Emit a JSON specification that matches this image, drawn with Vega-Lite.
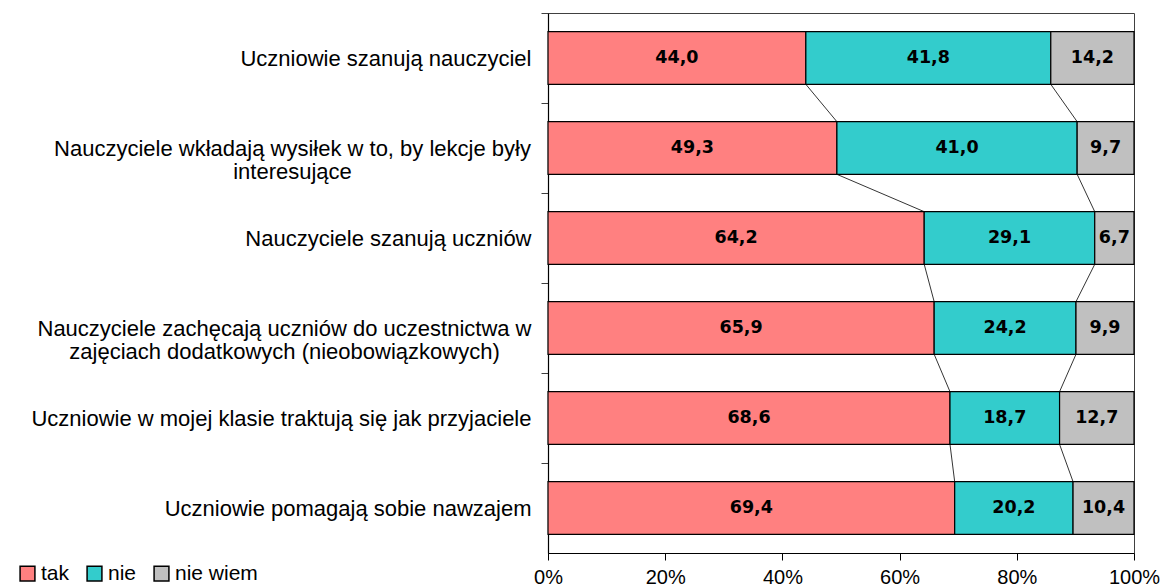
{
  "$schema": "https://vega.github.io/schema/vega-lite/v6.json",
  "autosize": "none",
  "width": 586,
  "height": 540,
  "padding": {"left": 548, "top": 13, "right": 33, "bottom": 35},
  "background": "white",
  "config": {
    "view": {"stroke": "#404040", "strokeWidth": 1},
    "font": "Liberation Sans"
  },
  "datasets": {
    "bars": [
      {"cat": "Uczniowie szanują nauczyciel", "series": "tak", "ord": 1, "value": 44.0},
      {"cat": "Uczniowie szanują nauczyciel", "series": "nie", "ord": 2, "value": 41.8},
      {"cat": "Uczniowie szanują nauczyciel", "series": "nie wiem", "ord": 3, "value": 14.2},
      {"cat": "Nauczyciele wkładają wysiłek w to, by lekcje były\ninteresujące", "series": "tak", "ord": 1, "value": 49.3},
      {"cat": "Nauczyciele wkładają wysiłek w to, by lekcje były\ninteresujące", "series": "nie", "ord": 2, "value": 41.0},
      {"cat": "Nauczyciele wkładają wysiłek w to, by lekcje były\ninteresujące", "series": "nie wiem", "ord": 3, "value": 9.7},
      {"cat": "Nauczyciele szanują uczniów", "series": "tak", "ord": 1, "value": 64.2},
      {"cat": "Nauczyciele szanują uczniów", "series": "nie", "ord": 2, "value": 29.1},
      {"cat": "Nauczyciele szanują uczniów", "series": "nie wiem", "ord": 3, "value": 6.7},
      {"cat": "Nauczyciele zachęcają uczniów do uczestnictwa w\nzajęciach dodatkowych (nieobowiązkowych)", "series": "tak", "ord": 1, "value": 65.9},
      {"cat": "Nauczyciele zachęcają uczniów do uczestnictwa w\nzajęciach dodatkowych (nieobowiązkowych)", "series": "nie", "ord": 2, "value": 24.2},
      {"cat": "Nauczyciele zachęcają uczniów do uczestnictwa w\nzajęciach dodatkowych (nieobowiązkowych)", "series": "nie wiem", "ord": 3, "value": 9.9},
      {"cat": "Uczniowie w mojej klasie traktują się jak przyjaciele", "series": "tak", "ord": 1, "value": 68.6},
      {"cat": "Uczniowie w mojej klasie traktują się jak przyjaciele", "series": "nie", "ord": 2, "value": 18.7},
      {"cat": "Uczniowie w mojej klasie traktują się jak przyjaciele", "series": "nie wiem", "ord": 3, "value": 12.7},
      {"cat": "Uczniowie pomagają sobie nawzajem", "series": "tak", "ord": 1, "value": 69.4},
      {"cat": "Uczniowie pomagają sobie nawzajem", "series": "nie", "ord": 2, "value": 20.2},
      {"cat": "Uczniowie pomagają sobie nawzajem", "series": "nie wiem", "ord": 3, "value": 10.4}
    ],
    "connectors": [
      {"cat": "Uczniowie szanują nauczyciel", "cat2": "Nauczyciele wkładają wysiłek w to, by lekcje były\ninteresujące", "x": 44.0, "x2": 49.3},
      {"cat": "Uczniowie szanują nauczyciel", "cat2": "Nauczyciele wkładają wysiłek w to, by lekcje były\ninteresujące", "x": 85.8, "x2": 90.3},
      {"cat": "Nauczyciele wkładają wysiłek w to, by lekcje były\ninteresujące", "cat2": "Nauczyciele szanują uczniów", "x": 49.3, "x2": 64.2},
      {"cat": "Nauczyciele wkładają wysiłek w to, by lekcje były\ninteresujące", "cat2": "Nauczyciele szanują uczniów", "x": 90.3, "x2": 93.3},
      {"cat": "Nauczyciele szanują uczniów", "cat2": "Nauczyciele zachęcają uczniów do uczestnictwa w\nzajęciach dodatkowych (nieobowiązkowych)", "x": 64.2, "x2": 65.9},
      {"cat": "Nauczyciele szanują uczniów", "cat2": "Nauczyciele zachęcają uczniów do uczestnictwa w\nzajęciach dodatkowych (nieobowiązkowych)", "x": 93.3, "x2": 90.1},
      {"cat": "Nauczyciele zachęcają uczniów do uczestnictwa w\nzajęciach dodatkowych (nieobowiązkowych)", "cat2": "Uczniowie w mojej klasie traktują się jak przyjaciele", "x": 65.9, "x2": 68.6},
      {"cat": "Nauczyciele zachęcają uczniów do uczestnictwa w\nzajęciach dodatkowych (nieobowiązkowych)", "cat2": "Uczniowie w mojej klasie traktują się jak przyjaciele", "x": 90.1, "x2": 87.3},
      {"cat": "Uczniowie w mojej klasie traktują się jak przyjaciele", "cat2": "Uczniowie pomagają sobie nawzajem", "x": 68.6, "x2": 69.4},
      {"cat": "Uczniowie w mojej klasie traktują się jak przyjaciele", "cat2": "Uczniowie pomagają sobie nawzajem", "x": 87.3, "x2": 89.6}
    ]
  },
  "layer": [
    {
      "data": {"name": "bars"},
      "transform": [
        {"stack": "value", "groupby": ["cat"], "sort": [{"field": "ord", "order": "ascending"}], "as": ["x0", "x1"]},
        {"calculate": "(datum.x0 + datum.x1) / 2", "as": "mid"},
        {"calculate": "replace(format(datum.value, '.1f'), '.', ',')", "as": "lbl"}
      ],
      "layer": [
        {
          "mark": {"type": "bar", "stroke": "black", "strokeWidth": 1.2},
          "encoding": {
            "y": {
              "field": "cat", "type": "nominal", "sort": null, "title": null,
              "scale": {"paddingInner": 0.415, "paddingOuter": 0.2075},
              "axis": {
                "labelExpr": "split(datum.label, '\\n')",
                "labelFont": "Liberation Sans", "labelFontSize": 22, "labelColor": "black",
                "labelLineHeight": 23, "labelLimit": 600,
                "labelAlign": {"condition": {"test": "indexof(datum.value, '\\n') >= 0", "value": "center"}, "value": "right"},
                "labelPadding": {"condition": [
                  {"test": "indexof(datum.value, 'wkładają') >= 0", "value": 249},
                  {"test": "indexof(datum.value, 'zachęcają') >= 0", "value": 257}
                ], "value": 10},
                "tickOffset": -45, "labelOffset": 45, "tickSize": 7, "tickColor": "#404040",
                "domainColor": "black", "domainWidth": 1.2
              }
            },
            "x": {
              "field": "x0", "type": "quantitative",
              "scale": {"domain": [0, 100], "nice": false},
              "title": null,
              "axis": {
                "values": [0, 20, 40, 60, 80, 100],
                "labelExpr": "datum.value + '%'",
                "labelFlush": false,
                "grid": false, "labelFont": "Liberation Sans", "labelFontSize": 20,
                "labelColor": "black", "labelPadding": 7, "tickSize": 7,
                "tickColor": "black", "domainColor": "black", "domainWidth": 1.2
              }
            },
            "x2": {"field": "x1"},
            "color": {
              "field": "series", "type": "nominal", "title": null,
              "scale": {"domain": ["tak", "nie", "nie wiem"], "range": ["#FF8080", "#33CCCC", "#C0C0C0"]},
              "legend": {
                "orient": "none", "legendX": -531, "legendY": 550, "direction": "horizontal",
                "symbolType": "square", "symbolSize": 220, "symbolStrokeColor": "black",
                "symbolStrokeWidth": 1.5, "symbolOpacity": 1,
                "labelFont": "Liberation Sans", "labelFontSize": 21, "labelColor": "black",
                "labelOffset": 3, "columnPadding": 14
              }
            }
          }
        },
        {
          "mark": {"type": "text", "font": "DejaVu Sans", "fontWeight": "bold", "fontSize": 17.5, "color": "black", "baseline": "middle"},
          "encoding": {
            "y": {"field": "cat", "type": "nominal", "sort": null},
            "x": {"field": "mid", "type": "quantitative"},
            "text": {"field": "lbl"}
          }
        }
      ]
    },
    {
      "data": {"name": "connectors"},
      "mark": {"type": "rule", "color": "black", "strokeWidth": 0.8},
      "encoding": {
        "y": {"field": "cat", "type": "nominal", "sort": null, "bandPosition": 1},
        "y2": {"field": "cat2", "bandPosition": 0},
        "x": {"field": "x", "type": "quantitative"},
        "x2": {"field": "x2"}
      }
    }
  ]
}
